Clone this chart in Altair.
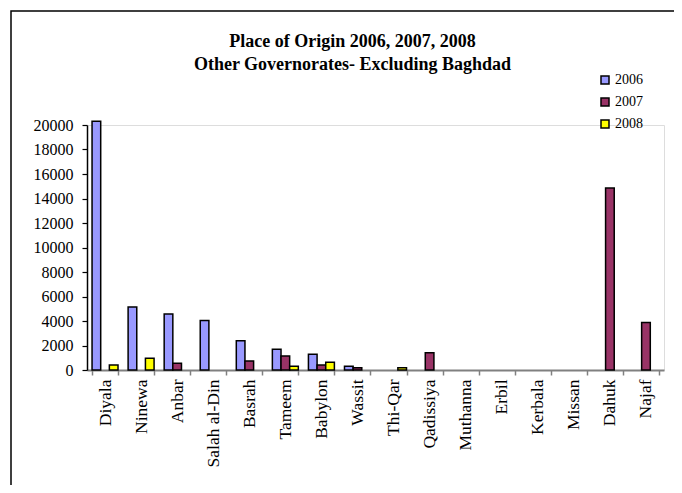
import altair as alt
import pandas as pd

categories = ["Diyala", "Ninewa", "Anbar", "Salah al-Din", "Basrah", "Tameem",
              "Babylon", "Wassit", "Thi-Qar", "Qadissiya", "Muthanna", "Erbil",
              "Kerbala", "Missan", "Dahuk", "Najaf"]
years = ["2006", "2007", "2008"]
v2006 = [20300, 5150, 4580, 4050, 2380, 1700, 1290, 300, 0, 0, 0, 0, 0, 0, 0, 0]
v2007 = [0, 0, 550, 0, 740, 1150, 410, 190, 0, 1400, 0, 0, 0, 0, 14850, 3870]
v2008 = [410, 960, 0, 0, 0, 300, 630, 0, 180, 0, 0, 0, 0, 0, 0, 0]
colors = ["#9999FF", "#993366", "#FFFF00"]
y_ticks = list(range(0, 20001, 2000))
title_lines = ["Place of Origin 2006, 2007, 2008", "Other Governorates- Excluding Baghdad"]

rows = []
for yr, vals in zip(years, [v2006, v2007, v2008]):
    for c, v in zip(categories, vals):
        rows.append({"Governorate": c, "Year": yr, "Value": v})
df = pd.DataFrame(rows)

FONT = "'Liberation Serif', 'DejaVu Serif', serif"

bars = alt.Chart(df).transform_filter("datum.Value > 0").mark_bar(
    stroke="black", strokeWidth=1.5
).encode(
    x=alt.X("Governorate:N", sort=categories,
            scale=alt.Scale(domain=categories, paddingInner=0.28, paddingOuter=0.14),
            axis=alt.Axis(title=None, labelAngle=270, labelFont=FONT, labelFontSize=17.5,
                          labelColor="black", labelPadding=4, tickBand="extent",
                          tickSize=5, tickColor="#808080", domainColor="#808080",
                          domainWidth=2, tickWidth=1.5)),
    xOffset=alt.XOffset("Year:N", scale=alt.Scale(domain=years)),
    y=alt.Y("Value:Q", scale=alt.Scale(domain=[0, 20000], nice=False),
            axis=alt.Axis(title=None, values=y_ticks, format="d", grid=False,
                          labelFont=FONT, labelFontSize=16, labelColor="black",
                          labelPadding=9, tickSize=5, tickColor="black",
                          domainColor="black", domainWidth=1.5, tickWidth=1.2)),
    color=alt.Color("Year:N", scale=alt.Scale(domain=years, range=colors),
                    legend=alt.Legend(title=None, orient="none", legendX=511, legendY=-52,
                                      direction="vertical", symbolType="square",
                                      symbolSize=64, symbolStrokeColor="black",
                                      symbolStrokeWidth=1.5, labelFont=FONT,
                                      labelFontSize=14, labelColor="black",
                                      rowPadding=8, labelOffset=3)),
)

border = alt.Chart(pd.DataFrame({"k": [0]})).mark_rect(
    fill="transparent", stroke="black", strokeWidth=1.5
).encode(x=alt.value(-76), x2=alt.value(700), y=alt.value(-114), y2=alt.value(600))

title_df = pd.DataFrame({"line": title_lines, "row": [0, 1]})
title1 = alt.Chart(title_df).transform_filter("datum.row == 0").mark_text(
    font=FONT, fontSize=18, fontWeight="bold", color="black", align="center",
    baseline="alphabetic"
).encode(text="line:N", x=alt.value(265.5), y=alt.value(-78.5))
title2 = alt.Chart(title_df).transform_filter("datum.row == 1").mark_text(
    font=FONT, fontSize=18, fontWeight="bold", color="black", align="center",
    baseline="alphabetic"
).encode(text="line:N", x=alt.value(265.5), y=alt.value(-55))

chart = alt.layer(border, title1, title2, bars).properties(
    width=577, height=245,
    autosize=alt.AutoSizeParams(type="none"),
    padding={"left": 79, "top": 117, "right": 10, "bottom": 115},
).configure_view(stroke=None, strokeWidth=0).configure(background="white")

chart.save("out.html", embed_options={"renderer": "svg", "actions": False})
